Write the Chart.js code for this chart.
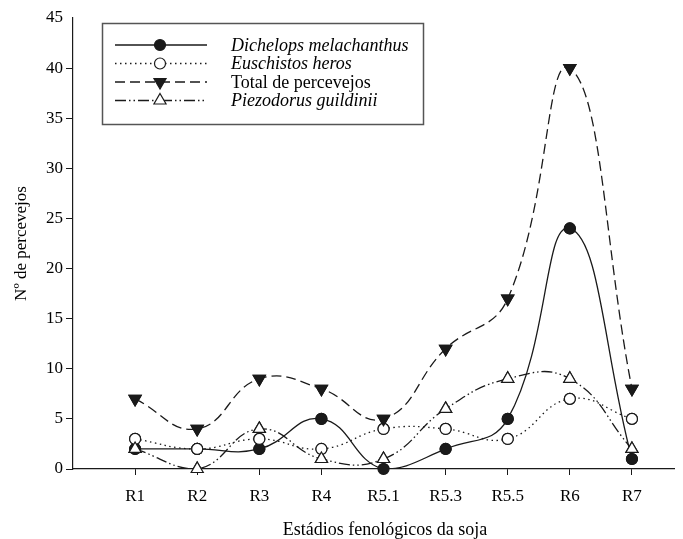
<!DOCTYPE html>
<html>
<head>
<meta charset="utf-8">
<script src="https://cdn.jsdelivr.net/npm/chart.js@4/dist/chart.umd.min.js"></script>
<style>
  html, body { margin: 0; padding: 0; background: #fff; }
  #wrap { width: 683px; height: 539px; }
</style>
</head>
<body>
<div id="wrap"><canvas id="c" width="683" height="539"></canvas></div>
<script>
// stages (x categories) and counts per stink bug species
var stages = ['R1', 'R2', 'R3', 'R4', 'R5.1', 'R5.3', 'R5.5', 'R6', 'R7'];
var dichelops = [2, 2, 2, 5, 0, 2, 5, 24, 1];
var euschistos = [3, 2, 3, 2, 4, 4, 3, 7, 5];
var total = [7, 4, 9, 8, 5, 12, 17, 40, 8];
var piezodorus = [2, 0, 4, 1, 1, 6, 9, 9, 2];
var yTicks = [0, 5, 10, 15, 20, 25, 30, 35, 40, 45];

var seriesNames = ['Dichelops melachanthus', 'Euschistos heros', 'Total de percevejos', 'Piezodorus guildinii'];
var italicName = [true, true, false, true];

var SERIF = '"Liberation Serif", "DejaVu Serif", serif';
var INK = '#1a1a1a';

function toPoints(arr) {
    return arr.map(function(v, i) { return {x: i + 1, y: v}; });
}

function makeSet(name, values, dash, style, filled, radius, rot) {
    return {
        label: name,
        data: toPoints(values),
        borderColor: INK,
        borderWidth: 1.3,
        borderDash: dash,
        tension: 0.45,
        fill: false,
        pointStyle: style,
        pointRotation: rot || 0,
        pointRadius: radius,
        pointBorderWidth: 1.2,
        pointBorderColor: INK,
        pointBackgroundColor: filled ? INK : '#fff'
    };
}

// draws the markers again without the chart-area clip, so points at 0 stay whole
var markersOnTop = {
    id: 'markersOnTop',
    afterDatasetsDraw: function(chart) {
        var ctx = chart.ctx;
        chart.data.datasets.forEach(function(ds, i) {
            var meta = chart.getDatasetMeta(i);
            meta.data.forEach(function(pt) { pt.draw(ctx); });
        });
    }
};

// boxed legend with long line samples and italic species names
var boxLegend = {
    id: 'boxLegend',
    afterDraw: function(chart) {
        var ctx = chart.ctx;
        ctx.save();
        ctx.strokeStyle = '#555';
        ctx.lineWidth = 1.5;
        ctx.strokeRect(102.5, 23.5, 321, 101);
        var rows = [45, 63.5, 82, 100.5];
        chart.data.datasets.forEach(function(ds, i) {
            var y = rows[i];
            ctx.save();
            ctx.strokeStyle = INK;
            ctx.lineWidth = 1.3;
            ctx.setLineDash(ds.borderDash);
            ctx.beginPath();
            ctx.moveTo(115, y);
            ctx.lineTo(207, y);
            ctx.stroke();
            ctx.restore();
            ctx.setLineDash([]);
            ctx.lineWidth = 1.2;
            ctx.strokeStyle = INK;
            ctx.fillStyle = ds.pointBackgroundColor;
            Chart.helpers.drawPoint(ctx, {
                pointStyle: ds.pointStyle,
                rotation: ds.pointRotation,
                radius: ds.pointRadius,
                borderWidth: 1.2
            }, 160, y);
            ctx.fillStyle = '#000';
            ctx.font = (italicName[i] ? 'italic ' : '') + '18px ' + SERIF;
            ctx.textAlign = 'left';
            ctx.textBaseline = 'middle';
            ctx.fillText(seriesNames[i], 231, y + 1);
        });
        // x axis title
        ctx.font = '18px ' + SERIF;
        ctx.textAlign = 'center';
        ctx.fillText('Estádios fenológicos da soja', 385, 530);
        ctx.restore();
    }
};

var chart = new Chart(document.getElementById('c'), {
    type: 'line',
    data: {
        datasets: [
            makeSet(seriesNames[0], dichelops, [], 'circle', true, 5.5),
            makeSet(seriesNames[1], euschistos, [1.5, 3.5], 'circle', false, 5.5),
            makeSet(seriesNames[2], total, [10, 5], 'triangle', true, 7, 180),
            makeSet(seriesNames[3], piezodorus, [11, 3, 1.5, 3, 1.5, 3], 'triangle', false, 7)
        ]
    },
    options: {
        responsive: false,
        animation: false,
        devicePixelRatio: 1,
        layout: {padding: {top: 18, right: 0, left: 0, bottom: 0}},
        plugins: {
            legend: {display: false},
            tooltip: {enabled: false}
        },
        scales: {
            x: {
                type: 'linear',
                bounds: 'data',
                min: 0,
                max: 9.69,
                afterBuildTicks: function(scale) {
                    scale.ticks = stages.map(function(s, i) { return {value: i + 1}; });
                },
                afterFit: function(scale) {
                    scale.height = 70;
                    scale.paddingRight = 0;
                    scale.paddingLeft = 0;
                },
                ticks: {
                    color: '#000',
                    font: {family: SERIF, size: 17},
                    padding: 11,
                    maxRotation: 0,
                    autoSkip: false,
                    callback: function(v) { return stages[v - 1] || ''; }
                },
                grid: {drawOnChartArea: false, tickLength: 6, color: INK},
                border: {color: INK, width: 1.2}
            },
            y: {
                min: 0,
                max: 45,
                afterBuildTicks: function(scale) {
                    scale.ticks = yTicks.map(function(v) { return {value: v}; });
                },
                afterFit: function(scale) { scale.width = 73; },
                ticks: {
                    color: '#000',
                    font: {family: SERIF, size: 17},
                    padding: 3
                },
                grid: {
                    drawOnChartArea: false,
                    tickLength: 7,
                    color: function(c) { return c.tick && c.tick.value === 45 ? 'rgba(0,0,0,0)' : INK; }
                },
                border: {color: INK, width: 1.2},
                title: {
                    display: true,
                    text: 'Nº de percevejos',
                    color: '#000',
                    font: {family: SERIF, size: 17},
                    padding: {top: 11, bottom: 0}
                }
            }
        }
    },
    plugins: [markersOnTop, boxLegend]
});
</script>
</body>
</html>
